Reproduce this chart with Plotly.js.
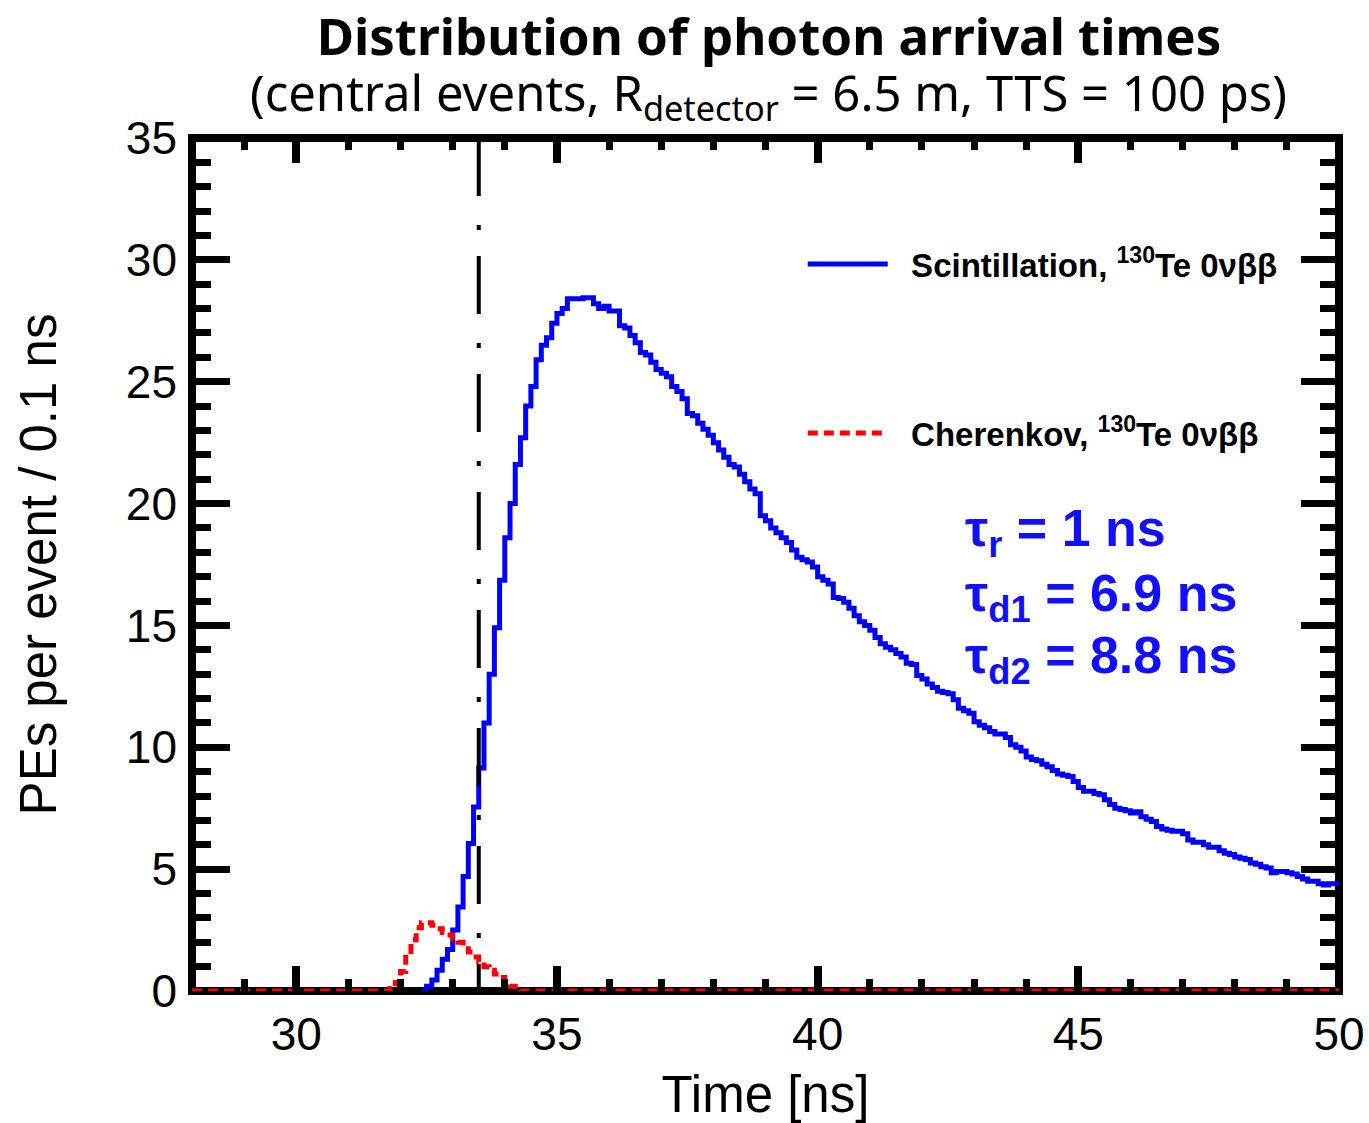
<!DOCTYPE html>
<html>
<head>
<meta charset="utf-8">
<script src="https://cdn.plot.ly/plotly-3.0.1.min.js"></script>
<style>
html,body{margin:0;padding:0;background:#fff;}
#chart{width:1369px;height:1123px;}
</style>
</head>
<body>
<div id="chart"></div>
<script>
// ---------------- data ----------------
const histRange = [28, 50];          // ns
const binWidth = 0.1;                // ns
const yRange = [0, 35];

// Scintillation histogram, bins starting at 32.4 ns (0.1 ns wide)
const scintStart = 32.4;
const scintValues = [
  0, 0.2, 0.45, 0.85, 1.3, 1.7, 2.5, 3.45, 4.7, 6.05,
  7.55, 9.15, 11.0, 13.0, 14.9, 16.85, 18.6, 20.0, 21.6, 22.7,
  24.0, 24.8, 25.9, 26.5, 26.8, 27.4, 27.8, 28.0, 28.4, 28.4,
  28.4, 28.45, 28.45, 28.2, 28.0, 28.1, 27.9, 27.9, 27.3, 27.2,
  26.9, 26.6, 26.2, 26.1, 25.8, 25.5, 25.35, 25.2, 24.8, 24.6,
  24.3, 23.7, 23.6, 23.3, 23.05, 22.8, 22.5, 22.2, 21.9, 21.6,
  21.5, 21.2, 20.9, 20.6, 20.4, 19.5, 19.3, 19.0, 18.8, 18.6,
  18.4, 18.1, 17.8, 17.7, 17.6, 17.4, 17.0, 16.85, 16.7, 16.15,
  16.1, 15.95, 15.7, 15.4, 15.15, 15.0, 14.8, 14.5, 14.25, 14.1,
  14.0, 13.85, 13.7, 13.45, 13.4, 12.95, 12.8, 12.6, 12.45, 12.3,
  12.25, 12.2, 11.95, 11.6, 11.5, 11.4, 11.05, 10.9, 10.8, 10.65,
  10.55, 10.55, 10.4, 10.1, 10.0, 9.85, 9.6, 9.5, 9.45, 9.3,
  9.2, 9.05, 8.9, 8.85, 8.8, 8.6, 8.35, 8.2, 8.2, 8.1,
  8.05, 7.85, 7.65, 7.5, 7.45, 7.4, 7.3, 7.35, 7.15, 7.05,
  6.95, 6.75, 6.65, 6.6, 6.55, 6.55, 6.45, 6.2, 6.1, 6.1,
  6.0, 5.9, 5.9, 5.75, 5.65, 5.6, 5.5, 5.45, 5.4, 5.25,
  5.2, 5.1, 5.05, 4.85, 4.9, 4.9, 4.85, 4.8, 4.7, 4.6,
  4.5, 4.5, 4.4, 4.35, 4.4, 4.4
];

// Cherenkov histogram, non-empty bins starting at 31.8 ns (all other bins are 0)
const cherStart = 31.8;
const cherValues = [
  0.1, 0.35, 0.8, 1.5, 2.1, 2.6, 2.8, 2.8, 2.7, 2.55,
  2.4, 2.3, 2.15, 2.0, 1.85, 1.6, 1.4, 1.2, 1.0, 0.85,
  0.7, 0.55, 0.4, 0.2, 0.05
];

const markerTime = 33.5;   // vertical dash-dot line
const xTickValues = [30, 35, 40, 45, 50];
const yTickValues = [0, 5, 10, 15, 20, 25, 30, 35];

const scintName = '\u00a0\u00a0<b>Scintillation, <sup>130</sup>Te 0\u03bd\u03b2\u03b2</b>';
const cherName = '\u00a0\u00a0<b>Cherenkov, <sup>130</sup>Te 0\u03bd\u03b2\u03b2</b>';
const tauLabels = [
  '<b>\u03c4<sub>r</sub> = 1 ns</b>',
  '<b>\u03c4<sub>d1</sub> = 6.9 ns</b>',
  '<b>\u03c4<sub>d2</sub> = 8.8 ns</b>'
];

// ------------- build step (histogram) outlines -------------
function stepXY(start, vals, padToRange) {
  const x = [], y = [];
  if (padToRange) { x.push(histRange[0]); y.push(0); }
  for (let i = 0; i < vals.length; i++) {
    x.push(+(start + i * binWidth).toFixed(3));
    y.push(vals[i]);
  }
  const end = +(start + vals.length * binWidth).toFixed(3);
  if (padToRange) {
    x.push(end); y.push(0);
    x.push(histRange[1]); y.push(0);
  } else {
    x.push(end); y.push(vals[vals.length - 1]);
  }
  return {x, y};
}

const s = stepXY(scintStart, scintValues, false);
const c = stepXY(cherStart, cherValues, true);

const traces = [
  {
    x: s.x, y: s.y, type: 'scatter', mode: 'lines',
    line: {shape: 'hv', color: '#0000ff', width: 5},
    name: scintName, legendgroup: 'g1', hoverinfo: 'skip'
  },
  {
    x: c.x, y: c.y, type: 'scatter', mode: 'lines',
    line: {shape: 'hv', color: '#ff0000', width: 5, dash: '10px,6px'},
    name: cherName, legendgroup: 'g2', hoverinfo: 'skip'
  }
];

const tickFont = {family: 'Liberation Sans, Arial, sans-serif', size: 46, color: '#000'};
const axisTitleFont = {family: 'Liberation Sans, Arial, sans-serif', size: 51, color: '#000'};

const layout = {
  width: 1369, height: 1123,
  margin: {l: 192, r: 30, t: 138, b: 132, pad: 0, autoexpand: false},
  paper_bgcolor: '#ffffff', plot_bgcolor: '#ffffff',
  font: {family: 'Liberation Sans, Arial, sans-serif', color: '#000'},
  showlegend: true,
  title: {
    text: '<b>Distribution of photon arrival times</b>',
    font: {family: 'Noto Sans, sans-serif', size: 51, color: '#000'},
    xref: 'container', yref: 'container', x: 0.5617, y: 0.967,
    xanchor: 'center', yanchor: 'middle'
  },
  xaxis: {
    range: histRange, tickmode: 'array', tickvals: xTickValues,
    ticks: 'inside', ticklen: 25, tickwidth: 8, tickcolor: '#000',
    mirror: 'ticks', showline: false, showgrid: false, zeroline: false,
    minor: {dtick: 1, tick0: 0, ticks: 'inside', ticklen: 12, tickwidth: 7, tickcolor: '#000', showgrid: false},
    tickfont: tickFont, ticklabelstandoff: 12,
    title: {text: 'Time [ns]', font: axisTitleFont, standoff: 18}
  },
  yaxis: {
    range: yRange, tickmode: 'array', tickvals: yTickValues,
    ticks: 'inside', ticklen: 38, tickwidth: 7, tickcolor: '#000',
    mirror: 'ticks', showline: false, showgrid: false, zeroline: false,
    minor: {dtick: 1, tick0: 0, ticks: 'inside', ticklen: 19, tickwidth: 7, tickcolor: '#000', showgrid: false},
    tickfont: tickFont, ticklabelstandoff: 14,
    title: {text: 'PEs per event / 0.1 ns', font: axisTitleFont, standoff: 52}
  },
  legend: {
    x: 0.5325, y: 0.885, xanchor: 'left', yanchor: 'top',
    bgcolor: 'rgba(0,0,0,0)', borderwidth: 0,
    font: {family: 'Liberation Sans, Arial, sans-serif', size: 33, color: '#000'},
    traceorder: 'grouped', tracegroupgap: 123, itemwidth: 80
  },
  shapes: [
    {type: 'rect', xref: 'paper', yref: 'paper', x0: 0, x1: 1, y0: 0, y1: 1,
     line: {color: '#000', width: 8}, fillcolor: 'rgba(0,0,0,0)', layer: 'below'},
    {type: 'line', xref: 'x', yref: 'y', x0: markerTime, x1: markerTime, y0: yRange[1], y1: yRange[0],
     line: {color: '#000', width: 4, dash: '58px,29px,5px,26px'}, layer: 'above'}
  ],
  annotations: [
    {text: '(central events, R<sub>detector</sub> = 6.5 m, TTS = 100 ps)',
     xref: 'paper', yref: 'paper', x: 0.503, y: 1.050, xanchor: 'center', yanchor: 'middle',
     showarrow: false, font: {family: 'Noto Sans, sans-serif', size: 49, color: '#000'}},
    {text: tauLabels[0], xref: 'paper', yref: 'paper', x: 0.672, y: 0.538, xanchor: 'left', yanchor: 'middle',
     showarrow: false, font: {family: 'Liberation Sans, Arial, sans-serif', size: 52, color: '#1010ff'}},
    {text: tauLabels[1], xref: 'paper', yref: 'paper', x: 0.672, y: 0.462, xanchor: 'left', yanchor: 'middle',
     showarrow: false, font: {family: 'Liberation Sans, Arial, sans-serif', size: 52, color: '#1010ff'}},
    {text: tauLabels[2], xref: 'paper', yref: 'paper', x: 0.672, y: 0.389, xanchor: 'left', yanchor: 'middle',
     showarrow: false, font: {family: 'Liberation Sans, Arial, sans-serif', size: 52, color: '#1010ff'}}
  ]
};

Plotly.newPlot('chart', traces, layout, {displayModeBar: false, staticPlot: true});
</script>
</body>
</html>
